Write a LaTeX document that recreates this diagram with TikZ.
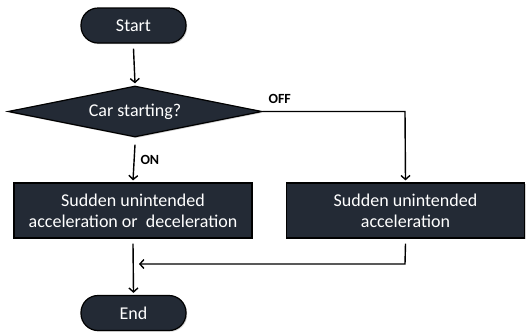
\documentclass[tikz,border=0pt]{standalone}
\usepackage{fontspec}
\setmainfont{Carlito}
\usetikzlibrary{shapes.geometric,arrows.meta,shadows}
\definecolor{boxfill}{HTML}{232A35}
\tikzset{
  base/.style={draw=black, line width=1.2pt, fill=boxfill, text=white, font=\fontsize{18}{21}\selectfont,
    drop shadow={shadow xshift=1.2pt, shadow yshift=-1.2pt, opacity=0.35}},
  term/.style={base, rounded corners=17pt, minimum width=105pt, minimum height=35pt},
  proc/.style={base, minimum height=55pt, align=center, inner sep=0pt},
  decision/.style={base, diamond, aspect=4.98, minimum width=254pt, minimum height=51pt, inner sep=0pt},
  conn/.style={line width=1.4pt, -{Straight Barb[length=4pt,width=9pt,line width=1.4pt]}},
  lbl/.style={font=\bfseries\fontsize{14}{16}\selectfont}
}
\begin{document}
\begin{tikzpicture}[x=1pt,y=-1pt]
\useasboundingbox (0,0) rectangle (530,333);
\node[term] (start) at (133.5,25.5) {Start};
\node[decision] (dec) at (135,111.5) {Car starting?};
\node[proc, minimum width=238pt] (p1) at (133,210.5) {Sudden unintended\\acceleration or\ \ deceleration};
\node[proc, minimum width=238pt] (p2) at (405.5,210.5) {Sudden unintended\\acceleration};
\node[term] (end) at (133.5,313) {End};
\coordinate (c1) at (405,111.5);
\coordinate (c2) at (405,264);
\coordinate (c3) at (139,264);
\draw[conn] ([yshift=-5pt]start.south) -- ([yshift=2pt]dec.north);
\draw[conn] ([yshift=-7pt]dec.south) -- ([yshift=2pt]p1.north);
\draw[conn] (dec.east) -- (c1) -- ([yshift=2pt]p2.north);
\draw[conn] ([yshift=-5pt]p2.south) -- (c2) -- (c3);
\draw[conn] ([yshift=-5pt]p1.south) -- ([yshift=2pt]end.north);
\node[lbl, anchor=south west] (off) at (265,107) {OFF};
\node[lbl, anchor=west] (on) at (137,160) {ON};
\end{tikzpicture}
\end{document}
